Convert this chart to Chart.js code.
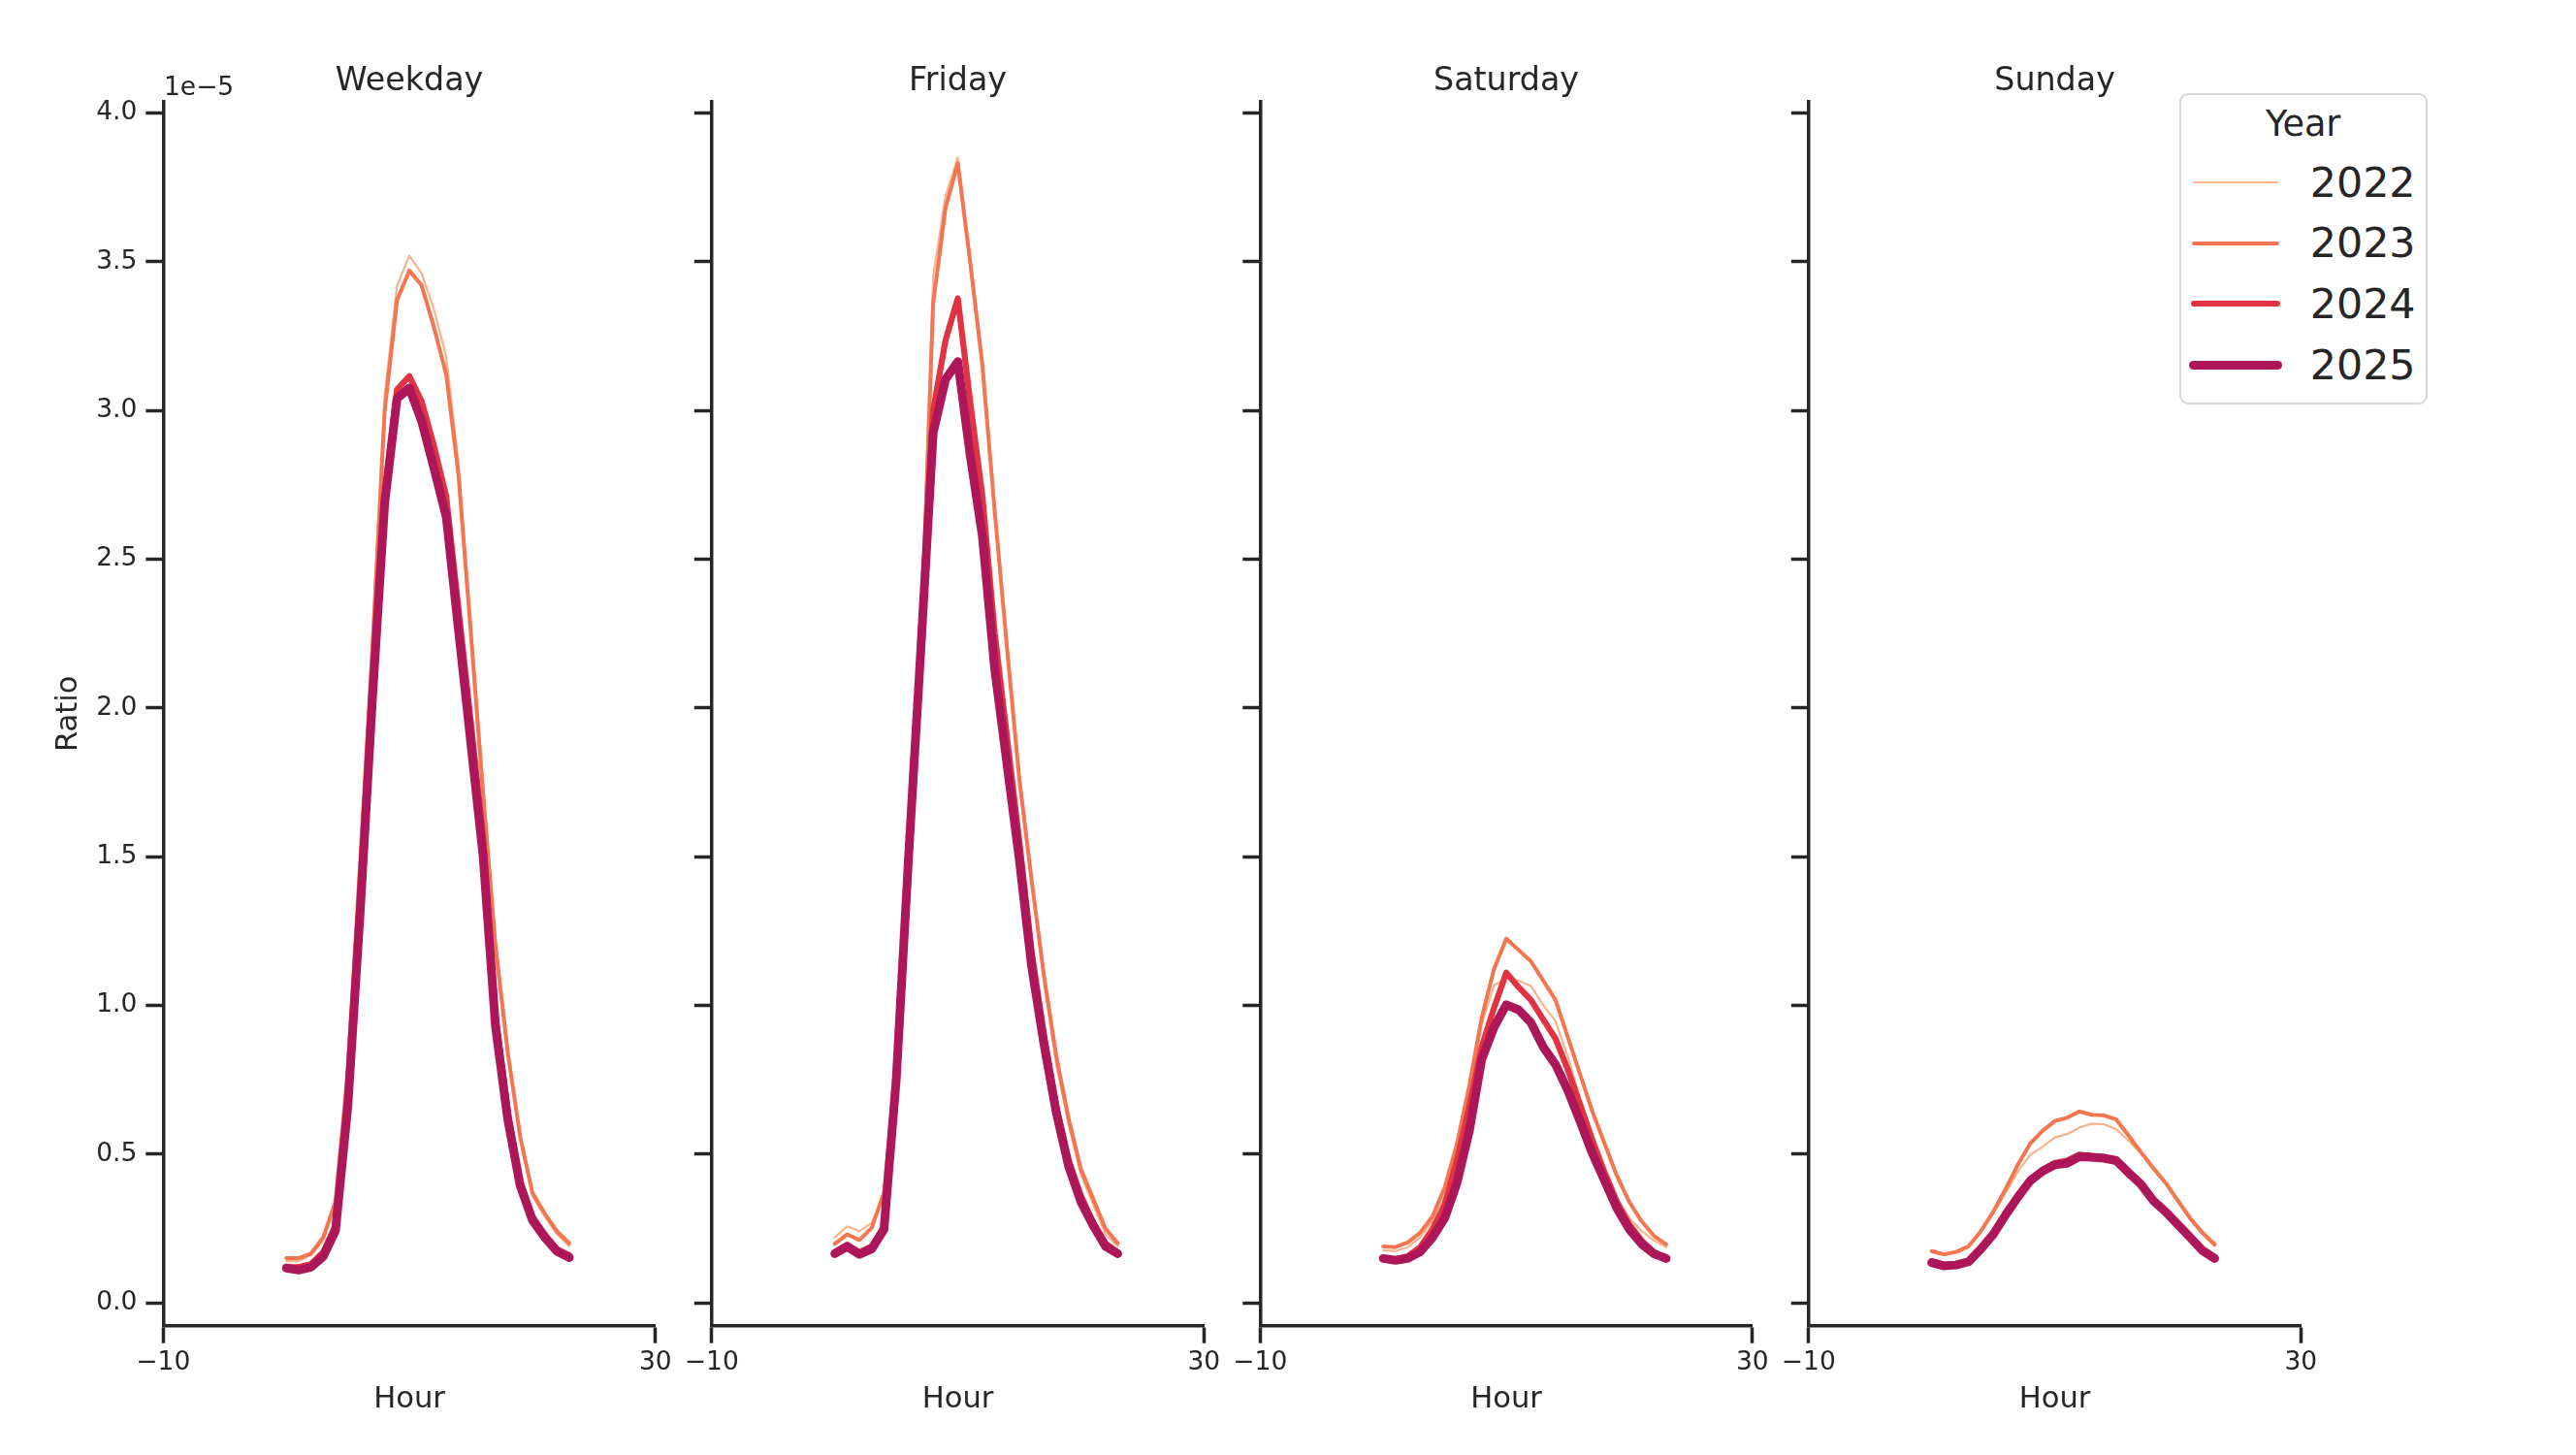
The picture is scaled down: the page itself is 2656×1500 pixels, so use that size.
<!DOCTYPE html>
<html>
<head>
<meta charset="utf-8">
<script src="https://cdn.jsdelivr.net/npm/chart.js@4.4.1/dist/chart.umd.min.js"></script>
<style>
    body { margin: 0; background: #fff; width: 2656px; height: 1500px; position: relative; overflow: hidden;
           font-family: 'DejaVu Sans', sans-serif; color: #262626; }
    canvas { position: absolute; left: 0; top: 0; }
    .txt { position: absolute; white-space: nowrap; }
    .center { transform: translateX(-50%); }
    #legend-box { position: absolute; box-sizing: border-box; border: 2.5px solid #d6d6d6; border-radius: 9px; background: #fff; }
    .swatch { position: absolute; }
</style>
</head>
<body>
<script>
// Horas del día y series (valores en unidades de 1e-5)
const hours = [0, 1, 2, 3, 4, 5, 6, 7, 8, 9, 10, 11, 12, 13, 14, 15, 16, 17, 18, 19, 20, 21, 22, 23];
const years = ['2022', '2023', '2024', '2025'];
const panelNames = ['Weekday', 'Friday', 'Saturday', 'Sunday'];
const xTickValues = [-10, 30];
const yTickValues = [0, 0.5, 1, 1.5, 2, 2.5, 3, 3.5, 4];

const weekday2022 = [0.14, 0.14, 0.16, 0.21, 0.33, 0.75, 1.45, 2.25, 3.05, 3.42, 3.52, 3.46, 3.34, 3.18, 2.82, 2.28, 1.74, 1.22, 0.86, 0.55, 0.36, 0.29, 0.23, 0.19];
const weekday2023 = [0.15, 0.15, 0.165, 0.22, 0.34, 0.78, 1.48, 2.20, 3.00, 3.37, 3.47, 3.42, 3.28, 3.12, 2.78, 2.25, 1.71, 1.20, 0.84, 0.56, 0.37, 0.30, 0.24, 0.20];
const weekday2024 = [0.12, 0.12, 0.13, 0.17, 0.26, 0.68, 1.35, 2.05, 2.72, 3.07, 3.115, 3.03, 2.88, 2.71, 2.33, 1.95, 1.56, 0.97, 0.64, 0.41, 0.29, 0.23, 0.18, 0.16];
const weekday2025 = [0.117, 0.11, 0.12, 0.156, 0.243, 0.66, 1.31, 2.03, 2.69, 3.04, 3.075, 2.964, 2.806, 2.642, 2.26, 1.88, 1.50, 0.93, 0.616, 0.395, 0.278, 0.22, 0.173, 0.152];

const friday2022 = [0.22, 0.257, 0.241, 0.268, 0.36, 0.82, 1.60, 2.25, 3.45, 3.72, 3.85, 3.52, 3.17, 2.68, 2.22, 1.78, 1.42, 1.08, 0.80, 0.60, 0.43, 0.33, 0.23, 0.19];
const friday2023 = [0.198, 0.23, 0.211, 0.252, 0.37, 0.80, 1.58, 2.20, 3.36, 3.68, 3.83, 3.50, 3.15, 2.66, 2.20, 1.76, 1.42, 1.10, 0.83, 0.62, 0.45, 0.35, 0.25, 0.20];
const friday2024 = [0.17, 0.195, 0.17, 0.19, 0.255, 0.76, 1.50, 2.20, 3.00, 3.235, 3.376, 3.03, 2.71, 2.25, 1.90, 1.55, 1.18, 0.90, 0.66, 0.48, 0.36, 0.27, 0.20, 0.17];
const friday2025 = [0.165, 0.189, 0.163, 0.181, 0.247, 0.752, 1.50, 2.20, 2.925, 3.104, 3.164, 2.85, 2.577, 2.13, 1.81, 1.49, 1.13, 0.87, 0.64, 0.46, 0.34, 0.26, 0.19, 0.165];

const saturday2022 = [0.176, 0.174, 0.187, 0.22, 0.274, 0.36, 0.502, 0.698, 0.937, 1.067, 1.09, 1.083, 1.065, 1.00, 0.947, 0.828, 0.687, 0.567, 0.448, 0.35, 0.285, 0.241, 0.209, 0.187];
const saturday2023 = [0.189, 0.187, 0.203, 0.236, 0.29, 0.388, 0.535, 0.73, 0.958, 1.121, 1.224, 1.186, 1.148, 1.083, 1.018, 0.893, 0.768, 0.643, 0.534, 0.426, 0.339, 0.274, 0.225, 0.196];
const saturday2024 = [0.149, 0.146, 0.157, 0.187, 0.247, 0.33, 0.48, 0.66, 0.86, 0.991, 1.11, 1.061, 1.018, 0.953, 0.888, 0.784, 0.665, 0.545, 0.437, 0.339, 0.263, 0.209, 0.17, 0.149];
const saturday2025 = [0.149, 0.143, 0.149, 0.171, 0.219, 0.285, 0.404, 0.578, 0.817, 0.926, 1.002, 0.985, 0.942, 0.86, 0.801, 0.714, 0.61, 0.502, 0.41, 0.317, 0.247, 0.198, 0.165, 0.149];

const sunday2022 = [0.17, 0.16, 0.17, 0.19, 0.24, 0.30, 0.37, 0.44, 0.497, 0.524, 0.556, 0.567, 0.589, 0.602, 0.60, 0.583, 0.545, 0.502, 0.45, 0.40, 0.34, 0.28, 0.23, 0.19];
const sunday2023 = [0.174, 0.163, 0.171, 0.19, 0.241, 0.306, 0.382, 0.464, 0.535, 0.578, 0.611, 0.622, 0.643, 0.632, 0.63, 0.616, 0.562, 0.507, 0.453, 0.404, 0.344, 0.285, 0.236, 0.196];
const sunday2024 = [0.14, 0.128, 0.13, 0.142, 0.185, 0.234, 0.30, 0.36, 0.415, 0.447, 0.47, 0.478, 0.498, 0.494, 0.49, 0.482, 0.44, 0.402, 0.347, 0.309, 0.266, 0.222, 0.179, 0.152];
const sunday2025 = [0.135, 0.124, 0.127, 0.138, 0.181, 0.23, 0.295, 0.355, 0.41, 0.442, 0.464, 0.469, 0.491, 0.489, 0.486, 0.478, 0.437, 0.399, 0.344, 0.306, 0.263, 0.22, 0.176, 0.149];

const panelSeries = [
    [weekday2022, weekday2023, weekday2024, weekday2025],
    [friday2022, friday2023, friday2024, friday2025],
    [saturday2022, saturday2023, saturday2024, saturday2025],
    [sunday2022, sunday2023, sunday2024, sunday2025]
];

// Estilo (paleta rocket invertida)
const yearColors = ['#f6b48f', '#f37651', '#e13342', '#ad1759'];
const yearWidths = [2.25, 4, 6.25, 9];
const INK = '#262626';

// Geometría de la figura
const PAGE_W = 2656, PAGE_H = 1500;
const panelLeft = [168.3, 733.8, 1299.3, 1864.8];
const panelWidth = 507.5;
const plotTop = 105, plotBottom = 1366.7;
const Y_AXIS_W = 130, X_AXIS_H = 130;

Chart.defaults.font.family = "'DejaVu Sans', sans-serif";
Chart.defaults.color = INK;

const fmtMinus = v => (v < 0 ? '\u2212' + Math.abs(v) : String(v));

function addText(text, left, top, size, centered) {
    const el = document.createElement('div');
    el.className = 'txt' + (centered ? ' center' : '');
    el.textContent = text;
    el.style.left = left + 'px';
    el.style.top = top + 'px';
    el.style.fontSize = size + 'px';
    el.style.lineHeight = size + 'px';
    document.body.appendChild(el);
}

panelNames.forEach((name, p) => {
    const canvas = document.createElement('canvas');
    canvas.width = PAGE_W;
    canvas.height = PAGE_H;
    document.body.appendChild(canvas);
    const left = panelLeft[p];
    const right = left + panelWidth;

    new Chart(canvas, {
        type: 'line',
        data: {
            datasets: years.map((yr, i) => ({
                label: yr,
                data: hours.map((h, k) => ({ x: h, y: panelSeries[p][i][k] })),
                borderColor: yearColors[i],
                backgroundColor: yearColors[i],
                borderWidth: yearWidths[i],
                borderCapStyle: 'round',
                borderJoinStyle: 'round',
                pointRadius: 0,
                tension: 0,
                order: years.length - i
            }))
        },
        options: {
            responsive: false,
            animation: false,
            devicePixelRatio: 1,
            layout: {
                padding: {
                    left: left - Y_AXIS_W,
                    right: PAGE_W - right,
                    top: plotTop,
                    bottom: PAGE_H - plotBottom - X_AXIS_H
                }
            },
            plugins: { legend: { display: false }, tooltip: { enabled: false } },
            scales: {
                x: {
                    type: 'linear',
                    min: -10,
                    max: 30,
                    afterBuildTicks: s => { s.ticks = xTickValues.map(v => ({ value: v })); },
                    afterFit: s => { s.height = X_AXIS_H; },
                    grid: { drawOnChartArea: false, drawTicks: true, tickLength: 18, tickWidth: 3.5, tickColor: INK },
                    border: { display: true, width: 3.5, color: INK },
                    ticks: { padding: 5, font: { size: 26.5 }, color: INK, maxRotation: 0, autoSkip: false, callback: v => fmtMinus(v) },
                    title: { display: true, text: 'Hour', color: INK, font: { size: 30.6 }, padding: { top: 0, bottom: 35 } }
                },
                y: {
                    type: 'linear',
                    min: -0.077,
                    max: 4.037,
                    afterBuildTicks: s => { s.ticks = yTickValues.map(v => ({ value: v })); },
                    afterFit: s => { s.width = Y_AXIS_W; },
                    grid: { drawOnChartArea: false, drawTicks: true, tickLength: 18, tickWidth: 3.5, tickColor: INK },
                    border: { display: true, width: 3.5, color: INK },
                    ticks: { padding: 9, font: { size: 26.5 }, color: INK, autoSkip: false, callback: v => (p === 0 ? v.toFixed(1) : '') },
                    title: { display: p === 0, text: 'Ratio', color: INK, font: { size: 30.6 }, padding: { top: 14, bottom: 0 } }
                }
            }
        }
    });

    // Título de cada panel
    addText(name, (left + right) / 2, 64.8, 33.3, true);
});

// Etiqueta de desplazamiento del eje Y
addText('1e\u22125', 169, 75.7, 26.5, false);

// Leyenda
const legendBox = document.createElement('div');
legendBox.id = 'legend-box';
Object.assign(legendBox.style, { left: '2246.7px', top: '96px', width: '256px', height: '321.3px' });
document.body.appendChild(legendBox);
addText('Year', 2374.7, 110, 36.6, true);
years.forEach((yr, i) => {
    const lineY = 187.7 + i * 62.8;
    const sw = document.createElement('div');
    sw.className = 'swatch';
    const w = yearWidths[i];
    Object.assign(sw.style, {
        left: (2261.7 - w / 2) + 'px',
        top: (lineY - w / 2) + 'px',
        width: (86.6 + w) + 'px',
        height: w + 'px',
        borderRadius: (w / 2) + 'px',
        background: yearColors[i]
    });
    document.body.appendChild(sw);
    addText(yr, 2381.7, lineY + 15 - 36.2, 42.8, false);
});
</script>
</body>
</html>
